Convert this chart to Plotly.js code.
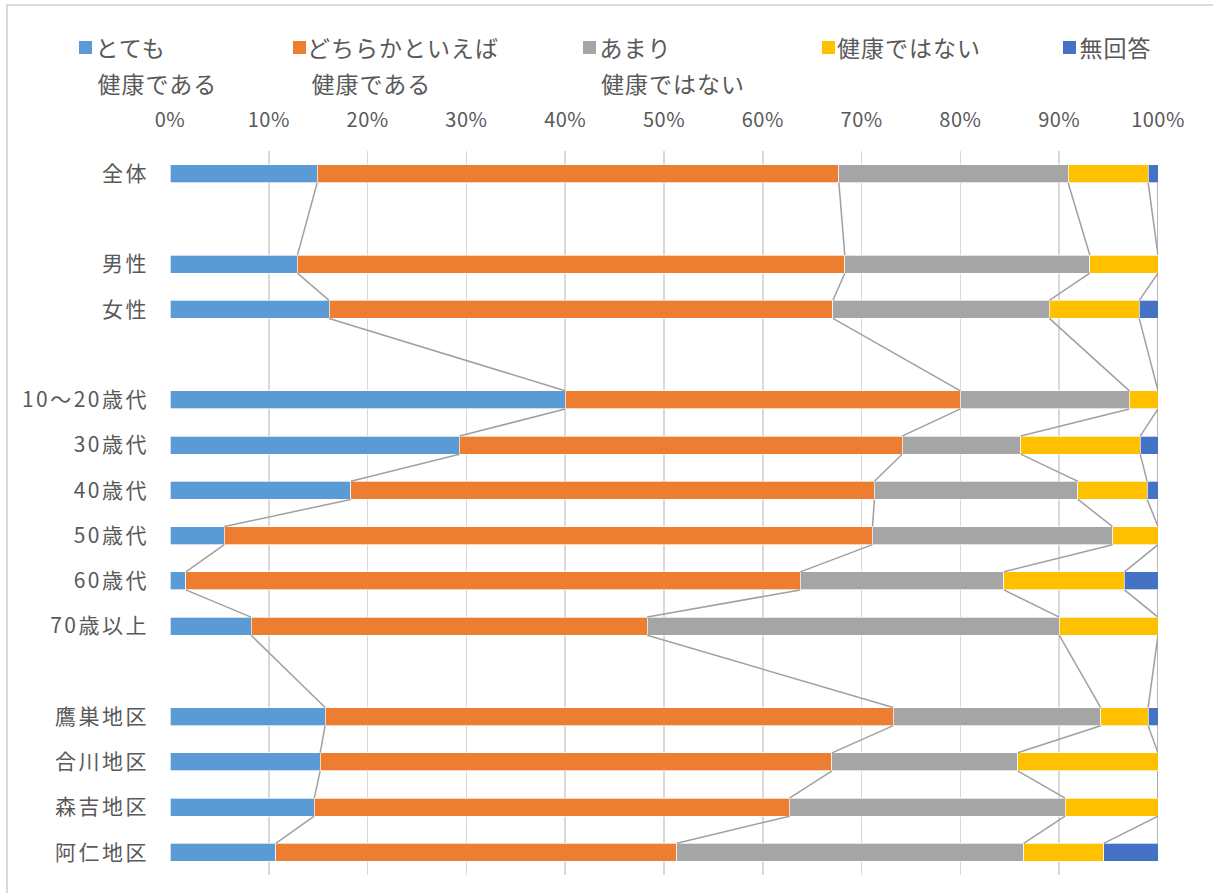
<!DOCTYPE html>
<html>
<head>
<meta charset="utf-8">
<script src="https://cdn.plot.ly/plotly-3.0.1.min.js"></script>
<style>
  html, body { margin: 0; padding: 0; background: #fff; }
  #wrap { position: relative; width: 1213px; height: 893px; overflow: hidden; }
  #frame { position: absolute; left: 6px; top: 4px; width: 1300px; height: 1000px;
           border-left: 2px solid #d9d9d9; border-top: 2px solid #d9d9d9; pointer-events: none; }
  #chart { position: absolute; left: 0; top: 0; width: 1213px; height: 893px; }
  #chart .ytick text { letter-spacing: 2.5px; }
  #chart .xtick text { letter-spacing: 0.5px; }
  #chart .annotation-text { letter-spacing: 1px; }
</style>
</head>
<body>
<div id="wrap">
  <div id="chart"></div>
  <div id="frame"></div>
</div>
<script>
// ---- data ----
const categories = ["全体", "", "男性", "女性", "", "10〜20歳代", "30歳代", "40歳代", "50歳代", "60歳代", "70歳以上", "", "鷹巣地区", "合川地区", "森吉地区", "阿仁地区"];
const seriesNames = ["とても\n健康である", "どちらかといえば\n健康である", "あまり\n健康ではない", "健康ではない", "無回答"];
const veryHealthy   = [14.9, null, 12.9, 16.1, null, 40.0, 29.3, 18.3,  5.5,  1.6,  8.2, null, 15.7, 15.2, 14.6, 10.7];
const ratherHealthy = [52.8, null, 55.4, 51.0, null, 40.0, 44.8, 53.0, 65.6, 62.2, 40.1, null, 57.5, 51.8, 48.1, 40.6];
const notVery       = [23.2, null, 24.8, 21.9, null, 17.1, 12.0, 20.6, 24.3, 20.6, 41.7, null, 21.0, 18.8, 27.9, 35.1];
const notHealthy    = [ 8.1, null,  6.9,  9.1, null,  2.9, 12.1,  7.0,  4.6, 12.2, 10.0, null,  4.8, 14.2,  9.4,  8.1];
const noAnswer      = [ 1.0, null,  0.0,  1.9, null,  0.0,  1.8,  1.1,  0.0,  3.4,  0.0, null,  1.0,  0.0,  0.0,  5.5];
const xTickVals   = [0, 10, 20, 30, 40, 50, 60, 70, 80, 90, 100];
const xTickLabels = ["0%", "10%", "20%", "30%", "40%", "50%", "60%", "70%", "80%", "90%", "100%"];

// ---- style ----
const colors = ["#5B9BD5", "#ED7D31", "#A5A5A5", "#FFC000", "#4472C4"];
const textColor = "#595959";
const font = "'Noto Sans CJK JP', 'Noto Sans', sans-serif";
const barWidth = 0.4;

const series = [veryHealthy, ratherHealthy, notVery, notHealthy, noAnswer];
const yIdx = categories.map((_, i) => i);

const traces = series.map((vals, k) => ({
  type: "bar",
  orientation: "h",
  name: seriesNames[k].replace("\n", ""),
  x: vals,
  y: yIdx,
  width: barWidth,
  marker: { color: colors[k], line: { color: "rgba(255,255,255,0.85)", width: 0.8 } },
  hoverinfo: "x+name",
  showlegend: false
}));

// series lines connecting cumulative boundaries of consecutive non-blank bars
const rows = yIdx.filter(i => veryHealthy[i] !== null);
for (let k = 0; k < series.length; k++) {
  const lx = [], ly = [];
  const cum = i => series.slice(0, k + 1).reduce((s, arr) => s + (arr[i] || 0), 0);
  for (let r = 0; r < rows.length - 1; r++) {
    const a = rows[r], b = rows[r + 1];
    lx.push(cum(a), cum(b), null);
    ly.push(a + barWidth / 2, b - barWidth / 2, null);
  }
  traces.push({
    type: "scatter", mode: "lines", x: lx, y: ly,
    line: { color: "#A0A0A0", width: 1.5 },
    hoverinfo: "skip", showlegend: false, cliponaxis: false
  });
}

// geometry helpers for manual legend (pixel -> paper)
const L = 170, R = 55, T = 151, B = 18, W = 1213, H = 893;
const pw = W - L - R, ph = H - T - B;
const px = x => (x - L) / pw;
const py = y => (H - B - y) / ph;

const legendX = [79, 293, 583, 822, 1063];
const annotations = [], shapes = [];
seriesNames.forEach((nm, k) => {
  const lines = nm.split("\n");
  shapes.push({
    type: "rect", xref: "paper", yref: "paper",
    x0: px(legendX[k]), x1: px(legendX[k] + 13), y0: py(54), y1: py(41),
    fillcolor: colors[k], line: { width: 0 }
  });
  lines.forEach((t, j) => {
    annotations.push({
      xref: "paper", yref: "paper", x: px(legendX[k] + (j === 0 ? 16 : 19)), y: py(47 + j * 36),
      xanchor: "left", yanchor: "middle", showarrow: false, text: t,
      font: { family: font, size: 23, color: textColor }
    });
  });
});

const layout = {
  width: W, height: H,
  margin: { l: L, r: R, t: T, b: B },
  paper_bgcolor: "#fff", plot_bgcolor: "#fff",
  barmode: "stack",
  showlegend: false,
  font: { family: font, color: textColor },
  xaxis: {
    side: "top", range: [0, 100], tickmode: "array", tickvals: xTickVals, ticktext: xTickLabels,
    showgrid: true, gridcolor: "#D9D9D9", gridwidth: 1.5,
    zeroline: false, showline: false, ticks: "",
    ticklabelstandoff: 19,
    tickfont: { family: font, size: 20, color: textColor }, fixedrange: true
  },
  yaxis: {
    range: [categories.length - 0.5, -0.5],
    tickmode: "array", tickvals: yIdx, ticktext: categories,
    showgrid: false, zeroline: false, showline: false, ticks: "",
    ticklabelstandoff: 20,
    tickfont: { family: font, size: 21, color: textColor }, fixedrange: true
  },
  annotations: annotations,
  shapes: shapes
};

Plotly.newPlot("chart", traces, layout, { displayModeBar: false, staticPlot: true });
</script>
</body>
</html>
